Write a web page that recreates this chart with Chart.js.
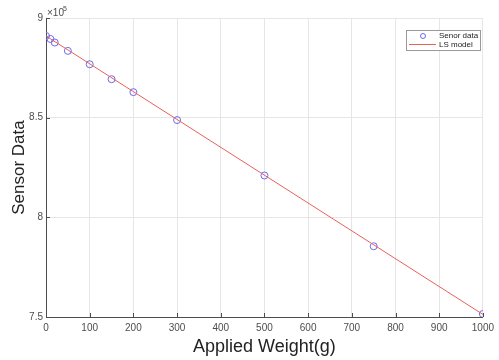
<!DOCTYPE html>
<html>
<head>
    <title>Sensor Data vs Applied Weight</title>
    <script src="https://cdn.jsdelivr.net/npm/chart.js"></script>
    <style>
        body { margin: 0; background: #fff; }
        #wrap { width: 499px; height: 360px; }
    </style>
</head>
<body>
    <div id="wrap"><canvas id="myChart"></canvas></div>
    <script>
        // measured points
        const weights = [0, 10, 20, 50, 100, 150, 200, 300, 500, 750, 1000];
        const sensorValues = [891000, 889500, 887700, 883500, 876800, 869300, 862800, 848800, 821000, 785500, 751500];

        // least squares line end points
        const lsWeights = [0, 1000];
        const lsValues = [891000, 751300];

        const xTicks = [0, 100, 200, 300, 400, 500, 600, 700, 800, 900, 1000];
        const yTicks = [750000, 800000, 850000, 900000];

        const tickColor = '#4d4d4d';
        const fontFam = 'Arial, "Liberation Sans", Helvetica, sans-serif';

        // inward ticks, legend box in the top right corner + the x10^5 exponent
        const extras = {
            id: 'extras',
            afterDatasetsDraw(chart) {
                const ctx = chart.ctx;
                const area = chart.chartArea;
                const sx = chart.scales.x, sy = chart.scales.y;
                ctx.save();
                ctx.strokeStyle = '#4d4d4d';
                ctx.lineWidth = 1;
                ctx.beginPath();
                xTicks.forEach(v => {
                    const px = Math.round(sx.getPixelForValue(v)) + 0.5;
                    ctx.moveTo(px, area.bottom);
                    ctx.lineTo(px, area.bottom - 4);
                });
                yTicks.forEach(v => {
                    const py = Math.round(sy.getPixelForValue(v)) + 0.5;
                    ctx.moveTo(area.left, py);
                    ctx.lineTo(area.left + 4, py);
                });
                ctx.stroke();
                ctx.restore();
            },
            afterDraw(chart) {
                const ctx = chart.ctx;
                const area = chart.chartArea;
                ctx.save();
                // exponent
                ctx.fillStyle = tickColor;
                ctx.font = '10px ' + fontFam;
                ctx.textBaseline = 'alphabetic';
                ctx.textAlign = 'left';
                ctx.fillText('\u00d710', area.left + 1, area.top - 2);
                ctx.font = '7px ' + fontFam;
                ctx.fillText('5', area.left + 17, area.top - 7);

                // legend
                const bx = 406, by = 30, bw = 74, bh = 20;
                ctx.fillStyle = '#fff';
                ctx.fillRect(bx, by, bw, bh);
                ctx.strokeStyle = '#999';
                ctx.lineWidth = 1;
                ctx.strokeRect(bx + 0.5, by + 0.5, bw, bh);

                const ds = chart.data.datasets;
                ctx.strokeStyle = ds[0].borderColor;
                ctx.beginPath();
                ctx.arc(bx + 17, by + 6, 2.5, 0, Math.PI * 2);
                ctx.stroke();

                ctx.strokeStyle = ds[1].borderColor;
                ctx.beginPath();
                ctx.moveTo(bx + 3, by + 14.5);
                ctx.lineTo(bx + 30, by + 14.5);
                ctx.stroke();

                ctx.fillStyle = '#222';
                ctx.font = '8px ' + fontFam;
                ctx.textBaseline = 'middle';
                ctx.fillText(ds[0].label, bx + 33, by + 6);
                ctx.fillText(ds[1].label, bx + 33, by + 15);
                ctx.restore();
            }
        };

        const ctx = document.getElementById('myChart').getContext('2d');
        const chart = new Chart(ctx, {
            type: 'scatter',
            data: {
                datasets: [{
                    label: 'Senor data',
                    data: weights.map((w, i) => ({ x: w, y: sensorValues[i] })),
                    borderColor: '#6a6af2',
                    backgroundColor: 'rgba(0,0,0,0)',
                    borderWidth: 1,
                    pointRadius: 3.5,
                    order: 1
                }, {
                    label: 'LS model',
                    type: 'line',
                    data: lsWeights.map((w, i) => ({ x: w, y: lsValues[i] })),
                    borderColor: '#e8605a',
                    borderWidth: 1,
                    pointRadius: 0,
                    fill: false,
                    order: 0
                }]
            },
            options: {
                responsive: true,
                maintainAspectRatio: false,
                animation: false,
                layout: { padding: { top: 18, right: 13, left: 0, bottom: 0 } },
                plugins: {
                    legend: { display: false },
                    tooltip: { enabled: false }
                },
                scales: {
                    x: {
                        type: 'linear',
                        min: 0,
                        max: 1000,
                        afterBuildTicks: s => { s.ticks = xTicks.map(v => ({ value: v })); },
                        afterFit: s => { s.height = 43; },
                        border: { color: '#4d4d4d' },
                        grid: { color: '#e6e6e6', drawTicks: false },
                        ticks: {
                            color: tickColor,
                            font: { size: 10, family: fontFam },
                            padding: 5,
                            maxRotation: 0,
                            callback: v => String(v)
                        },
                        title: {
                            display: true,
                            text: 'Applied Weight(g)',
                            color: '#222',
                            font: { size: 18, family: fontFam },
                            padding: { top: 0, bottom: 2 }
                        }
                    },
                    y: {
                        type: 'linear',
                        min: 750000,
                        max: 900000,
                        afterBuildTicks: s => { s.ticks = yTicks.map(v => ({ value: v })); },
                        afterFit: s => { s.width = 46; },
                        border: { color: '#4d4d4d' },
                        grid: { color: '#e6e6e6', drawTicks: false },
                        ticks: {
                            color: tickColor,
                            font: { size: 10, family: fontFam },
                            padding: 3,
                            callback: v => String(v / 100000)
                        },
                        title: {
                            display: true,
                            text: 'Sensor Data',
                            color: '#222',
                            font: { size: 17, family: fontFam },
                            padding: { top: 9, bottom: 4 }
                        }
                    }
                }
            },
            plugins: [extras]
        });
    </script>
</body>
</html>
